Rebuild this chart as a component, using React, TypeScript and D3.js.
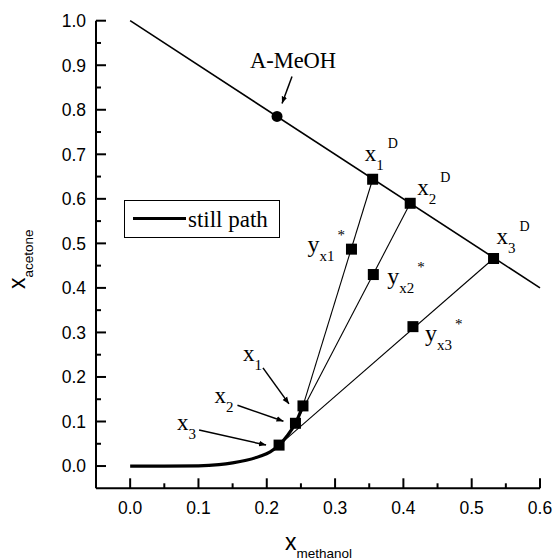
import React from 'react';
import * as d3 from 'd3';

// still path (thick curve)
const stillX = [0, 0.05, 0.1, 0.13, 0.15, 0.17, 0.19, 0.205, 0.218, 0.23, 0.242, 0.253];
const stillY = [0, 0, 0.0005, 0.003, 0.007, 0.013, 0.022, 0.032, 0.047, 0.068, 0.096, 0.135];

// distillate boundary x_acetone + x_methanol = 1
const boundaryX = [0, 0.6];
const boundaryY = [1.0, 0.4];

// azeotrope
const azeo = { x: 0.215, y: 0.785 };

// still compositions x1..x3, vapour y*, distillate D
const stillPtX = [0.253, 0.242, 0.218];
const stillPtY = [0.135, 0.096, 0.047];
const vapX = [0.324, 0.356, 0.414];
const vapY = [0.487, 0.43, 0.313];
const distX = [0.355, 0.41, 0.532];
const distY = [0.644, 0.59, 0.466];

const xTicks = [0, 0.1, 0.2, 0.3, 0.4, 0.5, 0.6];
const yTicks = [0, 0.1, 0.2, 0.3, 0.4, 0.5, 0.6, 0.7, 0.8, 0.9, 1.0];

const W = 555;
const H = 560;
const sans = '"Liberation Sans", Arial, sans-serif';
const serif = '"Liberation Serif", "Times New Roman", serif';

export default function App() {
  const x = d3.scaleLinear().domain([-0.05, 0.6]).range([96, 540]);
  const y = d3.scaleLinear().domain([-0.05, 1.0]).range([488.3, 20.7]);

  const line = d3.line<[number, number]>().x(d => x(d[0])).y(d => y(d[1]));
  const stillPath = d3
    .line<[number, number]>()
    .x(d => x(d[0]))
    .y(d => y(d[1]))
    .curve(d3.curveMonotoneX)(stillX.map((v, i) => [v, stillY[i]]));

  const xMinor = d3.range(0.05, 0.6, 0.1);
  const yMinor = d3.range(0.05, 1.0, 0.1);
  const sq = 11;

  // label offsets (pixels relative to points)
  const dLab = [
    { dx: -8, dy: -18, sub: '1' },
    { dx: 7, dy: -8, sub: '2' },
    { dx: 3, dy: -15, sub: '3' },
  ];
  const vLab = [
    { dx: -44, dy: 3, sub: 'x1' },
    { dx: 14, dy: 9, sub: 'x2' },
    { dx: 12, dy: 14, sub: 'x3' },
  ];
  const sLab = [
    { tx: -14, ty: -2, fx: -40, fy: -38, lx: -60, ly: -45 },
    { tx: -12, ty: -2, fx: -58, fy: -18, lx: -81, ly: -20 },
    { tx: -13, ty: 0, fx: -80, fy: -15, lx: -102, ly: -15 },
  ];

  return (
    <svg width={W} height={H} style={{ position: 'absolute', left: 0, top: 0, background: '#fff' }}>
      <defs>
        <marker id="ah" viewBox="0 0 10 10" refX="10" refY="5" markerWidth="7" markerHeight="7" orient="auto" markerUnits="userSpaceOnUse">
          <path d="M0,1 L10,5 L0,9 Z" fill="#000" />
        </marker>
      </defs>

      {/* axes */}
      <g stroke="#000" strokeWidth={2} fill="none">
        <line x1={x(-0.05)} x2={x(0.6)} y1={y(-0.05)} y2={y(-0.05)} />
        <line x1={x(-0.05)} x2={x(-0.05)} y1={y(-0.05)} y2={y(1.0)} />
        {xTicks.map(t => (
          <line key={'xt' + t} x1={x(t)} x2={x(t)} y1={y(-0.05)} y2={y(-0.05) - 10} />
        ))}
        {xMinor.map(t => (
          <line key={'xm' + t} x1={x(t)} x2={x(t)} y1={y(-0.05)} y2={y(-0.05) - 5} />
        ))}
        {yTicks.map(t => (
          <line key={'yt' + t} x1={x(-0.05)} x2={x(-0.05) + 10} y1={y(t)} y2={y(t)} />
        ))}
        {yMinor.map(t => (
          <line key={'ym' + t} x1={x(-0.05)} x2={x(-0.05) + 5} y1={y(t)} y2={y(t)} />
        ))}
      </g>
      <g fontFamily={sans} fontSize={17.5} fill="#000">
        {xTicks.map(t => (
          <text key={'xl' + t} x={x(t)} y={514} textAnchor="middle">{t.toFixed(1)}</text>
        ))}
        {yTicks.map(t => (
          <text key={'yl' + t} x={86} y={y(t) + 6.3} textAnchor="end">{t.toFixed(1)}</text>
        ))}
      </g>

      {/* axis titles */}
      <text x={285} y={550} fontFamily={sans} fontSize={23}>
        x<tspan fontSize={13.5} dy={8}>methanol</tspan>
      </text>
      <text transform="translate(25,289) rotate(-90)" fontFamily={sans} fontSize={23}>
        x<tspan fontSize={13.5} dy={8}>acetone</tspan>
      </text>

      {/* boundary line */}
      <path d={line(boundaryX.map((v, i) => [v, boundaryY[i]]) as any) || ''} stroke="#000" strokeWidth={1.6} fill="none" />

      {/* tie lines */}
      {stillPtX.map((v, i) => (
        <line key={'tie' + i} x1={x(v)} y1={y(stillPtY[i])} x2={x(distX[i])} y2={y(distY[i])} stroke="#000" strokeWidth={1.1} />
      ))}

      {/* still path */}
      <path d={stillPath || ''} stroke="#000" strokeWidth={3.2} fill="none" />

      {/* markers */}
      <circle cx={x(azeo.x)} cy={y(azeo.y)} r={5.5} fill="#000" />
      {[...stillPtX.map((v, i) => [v, stillPtY[i]]), ...vapX.map((v, i) => [v, vapY[i]]), ...distX.map((v, i) => [v, distY[i]])].map((p, i) => (
        <rect key={'sq' + i} x={x(p[0]) - sq / 2} y={y(p[1]) - sq / 2} width={sq} height={sq} fill="#000" />
      ))}

      {/* annotations */}
      <g fontFamily={serif} fill="#000">
        <text x={x(azeo.x) + 16} y={68} fontSize={22.5} textAnchor="middle">A-MeOH</text>
        <line x1={x(azeo.x) + 15} y1={y(azeo.y) - 40} x2={x(azeo.x) + 5} y2={y(azeo.y) - 13} stroke="#000" strokeWidth={1.5} markerEnd="url(#ah)" />

        {distX.map((v, i) => {
          const l = dLab[i];
          return (
            <text key={'dl' + i} x={x(v) + l.dx} y={y(distY[i]) + l.dy} fontSize={23}>
              x<tspan fontSize={15} dy={9}>{l.sub}</tspan>
              <tspan fontSize={14} dx={4} dy={-22}>D</tspan>
            </text>
          );
        })}

        {vapX.map((v, i) => {
          const l = vLab[i];
          return (
            <text key={'vl' + i} x={x(v) + l.dx} y={y(vapY[i]) + l.dy} fontSize={24}>
              y<tspan fontSize={15} dy={9}>{l.sub}</tspan>
              <tspan fontSize={15} dx={3} dy={-21}>*</tspan>
            </text>
          );
        })}

        {stillPtX.map((v, i) => {
          const l = sLab[i];
          const px = x(v);
          const py = y(stillPtY[i]);
          return (
            <g key={'sl' + i}>
              <text x={px + l.lx} y={py + l.ly} fontSize={23}>
                x<tspan fontSize={15} dy={9}>{i + 1}</tspan>
              </text>
              <line x1={px + l.fx} y1={py + l.fy} x2={px + l.tx} y2={py + l.ty} stroke="#000" strokeWidth={1.5} markerEnd="url(#ah)" />
            </g>
          );
        })}
      </g>

      {/* legend */}
      <rect x={124.5} y={200.5} width={155} height={37} fill="#fff" stroke="#000" strokeWidth={1} />
      <line x1={133} x2={186} y1={218.5} y2={218.5} stroke="#000" strokeWidth={3.2} />
      <text x={188} y={227} fontFamily={serif} fontSize={23}>still path</text>
    </svg>
  );
}
